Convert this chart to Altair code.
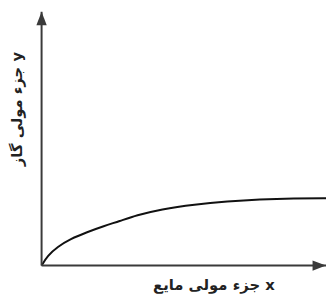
import altair as alt
import pandas as pd

# curve (x: liquid mole fraction, y: gas mole fraction), normalised 0..1 to the axes
curve_x = [0.0, 0.021, 0.056, 0.101, 0.160, 0.219, 0.274, 0.333, 0.420, 0.538, 0.653, 0.767, 0.885, 1.014]
curve_y = [0.0, 0.039, 0.074, 0.105, 0.132, 0.156, 0.175, 0.198, 0.222, 0.241, 0.253, 0.261, 0.265, 0.265]

x_title = "جزء مولی مایع  x"
y_title = "جزء مولی گاز  y"

curve = pd.DataFrame({"x": curve_x, "y": curve_y})
axes_df = pd.DataFrame({"x": [0, 0], "y": [0, 0], "x2": [1, 0], "y2": [0, 1]})
arrows_up = pd.DataFrame({"x": [0], "y": [1]})
arrows_right = pd.DataFrame({"x": [1], "y": [0]})

xs = alt.Scale(domain=[0, 1], nice=False, zero=False)
ys = alt.Scale(domain=[0, 1], nice=False, zero=False)

font = "DejaVu Sans"
axis_color = "#3a3a3a"

line = alt.Chart(curve).mark_line(color="#111111", strokeWidth=2, interpolate="basis").encode(
    x=alt.X("x:Q", scale=xs, axis=alt.Axis(
        title=x_title, domain=False, ticks=False, labels=False, grid=False,
        titleX=174, titleY=19, titleBaseline="middle", titleAlign="center",
        titleFont=font, titleFontSize=15, titleFontWeight="bold", titleColor="#222222")),
    y=alt.Y("y:Q", scale=ys, axis=alt.Axis(
        title=y_title, domain=False, ticks=False, labels=False, grid=False,
        titleX=-25, titleY=98, titleAngle=-90, titleBaseline="middle", titleAlign="center",
        titleFont=font, titleFontSize=15, titleFontWeight="bold", titleColor="#222222")),
)

axis_lines = alt.Chart(axes_df).mark_rule(color=axis_color, strokeWidth=2).encode(
    x=alt.X("x:Q", scale=xs), y=alt.Y("y:Q", scale=ys),
    x2="x2:Q", y2="y2:Q",
)

arrow_up = alt.Chart(arrows_up).mark_point(
    shape="M0,0L-1,2.6L1,2.6Z", size=110, filled=True, opacity=1, color=axis_color
).encode(x=alt.X("x:Q", scale=xs), y=alt.Y("y:Q", scale=ys))

arrow_right = alt.Chart(arrows_right).mark_point(
    shape="M0,0L-2.6,-1L-2.6,1Z", size=110, filled=True, opacity=1, color=axis_color
).encode(x=alt.X("x:Q", scale=xs), y=alt.Y("y:Q", scale=ys))

chart = alt.layer(line, axis_lines, arrow_up, arrow_right).properties(
    width=288, height=257,
    autosize=alt.AutoSizeParams(type="none"),
    padding={"left": 34, "top": 2, "right": 0, "bottom": 31},
    background="white",
).configure_view(stroke=None)

chart.save("out.html", embed_options={"renderer": "svg", "actions": False})
